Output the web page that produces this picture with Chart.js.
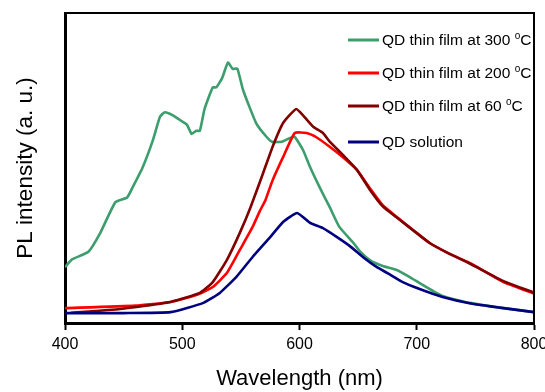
<!DOCTYPE html>
<html>
<head>
<meta charset="utf-8">
<script src="https://cdn.jsdelivr.net/npm/chart.js@4.4.0/dist/chart.umd.min.js"></script>
<style>
  html, body { margin: 0; padding: 0; background: #fff; }
  #wrap { width: 545px; height: 392px; }
</style>
</head>
<body>
<div id="wrap"><canvas id="plChart" width="545" height="392"></canvas></div>
<script>
// tick labels of the wavelength axis
const xTicks = [400, 500, 600, 700, 800];

// QD thin film at 300 °C
const wl300 = [400, 406, 420, 430, 443, 453, 458, 466, 475, 481, 485, 492, 500, 504, 508, 512, 515, 519, 526, 529, 534, 539, 543, 547, 552, 563, 572, 577, 585, 592, 596, 603, 609, 617, 626, 634, 646, 652, 660, 671, 683, 694, 705, 722, 745, 774, 800];
const pl300 = [18, 20.5, 23, 29, 39, 40.5, 44, 50, 59, 66.5, 68, 67, 65, 64, 61, 62, 62, 69, 76, 76, 79, 84, 82, 82, 75, 64.5, 60, 58.4, 58.5, 59.7, 60, 55.8, 50.3, 43.9, 37.2, 31, 25.8, 22.9, 20.3, 18.4, 17.1, 14.8, 12.3, 8.7, 6.5, 4.8, 3.5];

// QD thin film at 200 °C
const wl200 = [400, 460, 490, 512, 526, 538, 549, 560, 566, 571, 577, 586, 596, 606, 614, 626, 637, 649, 660, 671, 683, 700, 711, 728, 743, 751, 774, 800];
const pl200 = [4.8, 5.6, 6.8, 9, 11.6, 16.1, 23.5, 31, 36, 39.7, 46, 53.5, 61.3, 61.3, 60, 56.8, 53.5, 49.4, 43.5, 38, 34.2, 29, 25.8, 22.3, 19.8, 18.2, 13.2, 9.5];

// QD thin film at 60 °C
const wl60 = [405, 447, 490, 515, 526, 538, 549, 558, 569, 577, 586, 597, 603, 612, 620, 626, 637, 649, 660, 671, 683, 700, 711, 728, 743, 751, 774, 800];
const pl60 = [3.3, 4.5, 6.8, 9.7, 13.2, 20.3, 29, 37.1, 48.4, 56.8, 64.5, 69, 67, 63.2, 61.3, 58.4, 54.2, 49.4, 43, 37.6, 34, 29, 25.8, 22.3, 19.6, 18, 13.5, 9.8];

// QD solution
const wlSol = [400, 450, 490, 518, 532, 546, 560, 575, 586, 598, 609, 620, 632, 643, 654, 666, 675, 688, 703, 722, 745, 774, 800];
const plSol = [3.2, 3.2, 3.5, 6.5, 9.7, 14.8, 21.3, 27.7, 32.6, 35.5, 32.3, 30.6, 27.7, 24.8, 21.3, 18, 16.1, 13.2, 10.9, 8.4, 6.4, 4.8, 3.5];

const seriesNames = ['QD thin film at 300 ', 'QD thin film at 200 ', 'QD thin film at 60 ', 'QD solution'];
const seriesColors = ['#3c9d6d', '#ff0000', '#800000', '#000080'];

const pts = (xs, ys) => xs.map((x, i) => ({ x: x, y: ys[i] }));

const FONT = '"Liberation Sans", Arial, Helvetica, sans-serif';

// frame on top/right + custom legend in the upper right corner
const framePlugin = {
  id: 'frameLegend',
  afterDraw(chart) {
    const { ctx, chartArea: a } = chart;
    ctx.save();
    ctx.strokeStyle = '#000';
    ctx.lineWidth = 2;
    ctx.beginPath();
    ctx.moveTo(a.left, a.top);
    ctx.lineTo(a.right, a.top);
    ctx.lineTo(a.right, a.bottom);
    ctx.stroke();

    const rowY = [40, 73, 106, 142];
    ctx.textBaseline = 'middle';
    seriesNames.forEach((name, i) => {
      const y = rowY[i];
      ctx.strokeStyle = seriesColors[i];
      ctx.lineWidth = 3;
      ctx.beginPath();
      ctx.moveTo(348, y);
      ctx.lineTo(379, y);
      ctx.stroke();

      ctx.fillStyle = '#000';
      ctx.font = '15.5px ' + FONT;
      ctx.fillText(name, 382, y + 1);
      if (i < 3) {
        let x = 382 + ctx.measureText(name).width;
        ctx.font = '10px ' + FONT;
        ctx.fillText('o', x, y - 4);
        x += ctx.measureText('o').width;
        ctx.font = '15.5px ' + FONT;
        ctx.fillText('C', x, y + 1);
      }
    });
    ctx.restore();
  }
};

new Chart(document.getElementById('plChart').getContext('2d'), {
  type: 'line',
  data: {
    datasets: [
      { label: seriesNames[0], data: pts(wl300, pl300), borderColor: seriesColors[0], order: 4 },
      { label: seriesNames[1], data: pts(wl200, pl200), borderColor: seriesColors[1], order: 3 },
      { label: seriesNames[2], data: pts(wl60, pl60), borderColor: seriesColors[2], order: 2 },
      { label: seriesNames[3], data: pts(wlSol, plSol), borderColor: seriesColors[3], order: 1 }
    ]
  },
  options: {
    responsive: false,
    animation: false,
    devicePixelRatio: 1,
    layout: { padding: { top: 13, right: 11, left: 0, bottom: 0 } },
    elements: {
      point: { radius: 0 },
      line: { borderWidth: 2.6, tension: 0.15, fill: false }
    },
    scales: {
      x: {
        type: 'linear',
        min: 400,
        max: 800,
        afterBuildTicks: (scale) => { scale.ticks = xTicks.map(v => ({ value: v })); },
        afterFit: (scale) => { scale.height = 69; scale.paddingLeft = 0; scale.paddingRight = 0; },
        ticks: { color: '#000', font: { size: 16, family: FONT }, padding: 5 },
        grid: { drawOnChartArea: false, drawTicks: true, tickLength: 7, tickWidth: 2, tickColor: '#000' },
        border: { color: '#000', width: 3 },
        title: { display: true, text: 'Wavelength (nm)', color: '#000', font: { size: 22, family: FONT }, padding: { top: 0, bottom: 0 } }
      },
      y: {
        min: 0,
        max: 100,
        afterFit: (scale) => { scale.width = 65; scale.paddingTop = 0; scale.paddingBottom = 0; },
        ticks: { display: false },
        grid: { display: false },
        border: { color: '#000', width: 3 },
        title: { display: true, text: 'PL intensity (a. u.)', color: '#000', font: { size: 22.5, family: FONT }, padding: { top: 12, bottom: 0 } }
      }
    },
    plugins: {
      legend: { display: false },
      tooltip: { enabled: false }
    }
  },
  plugins: [framePlugin]
});
</script>
</body>
</html>
